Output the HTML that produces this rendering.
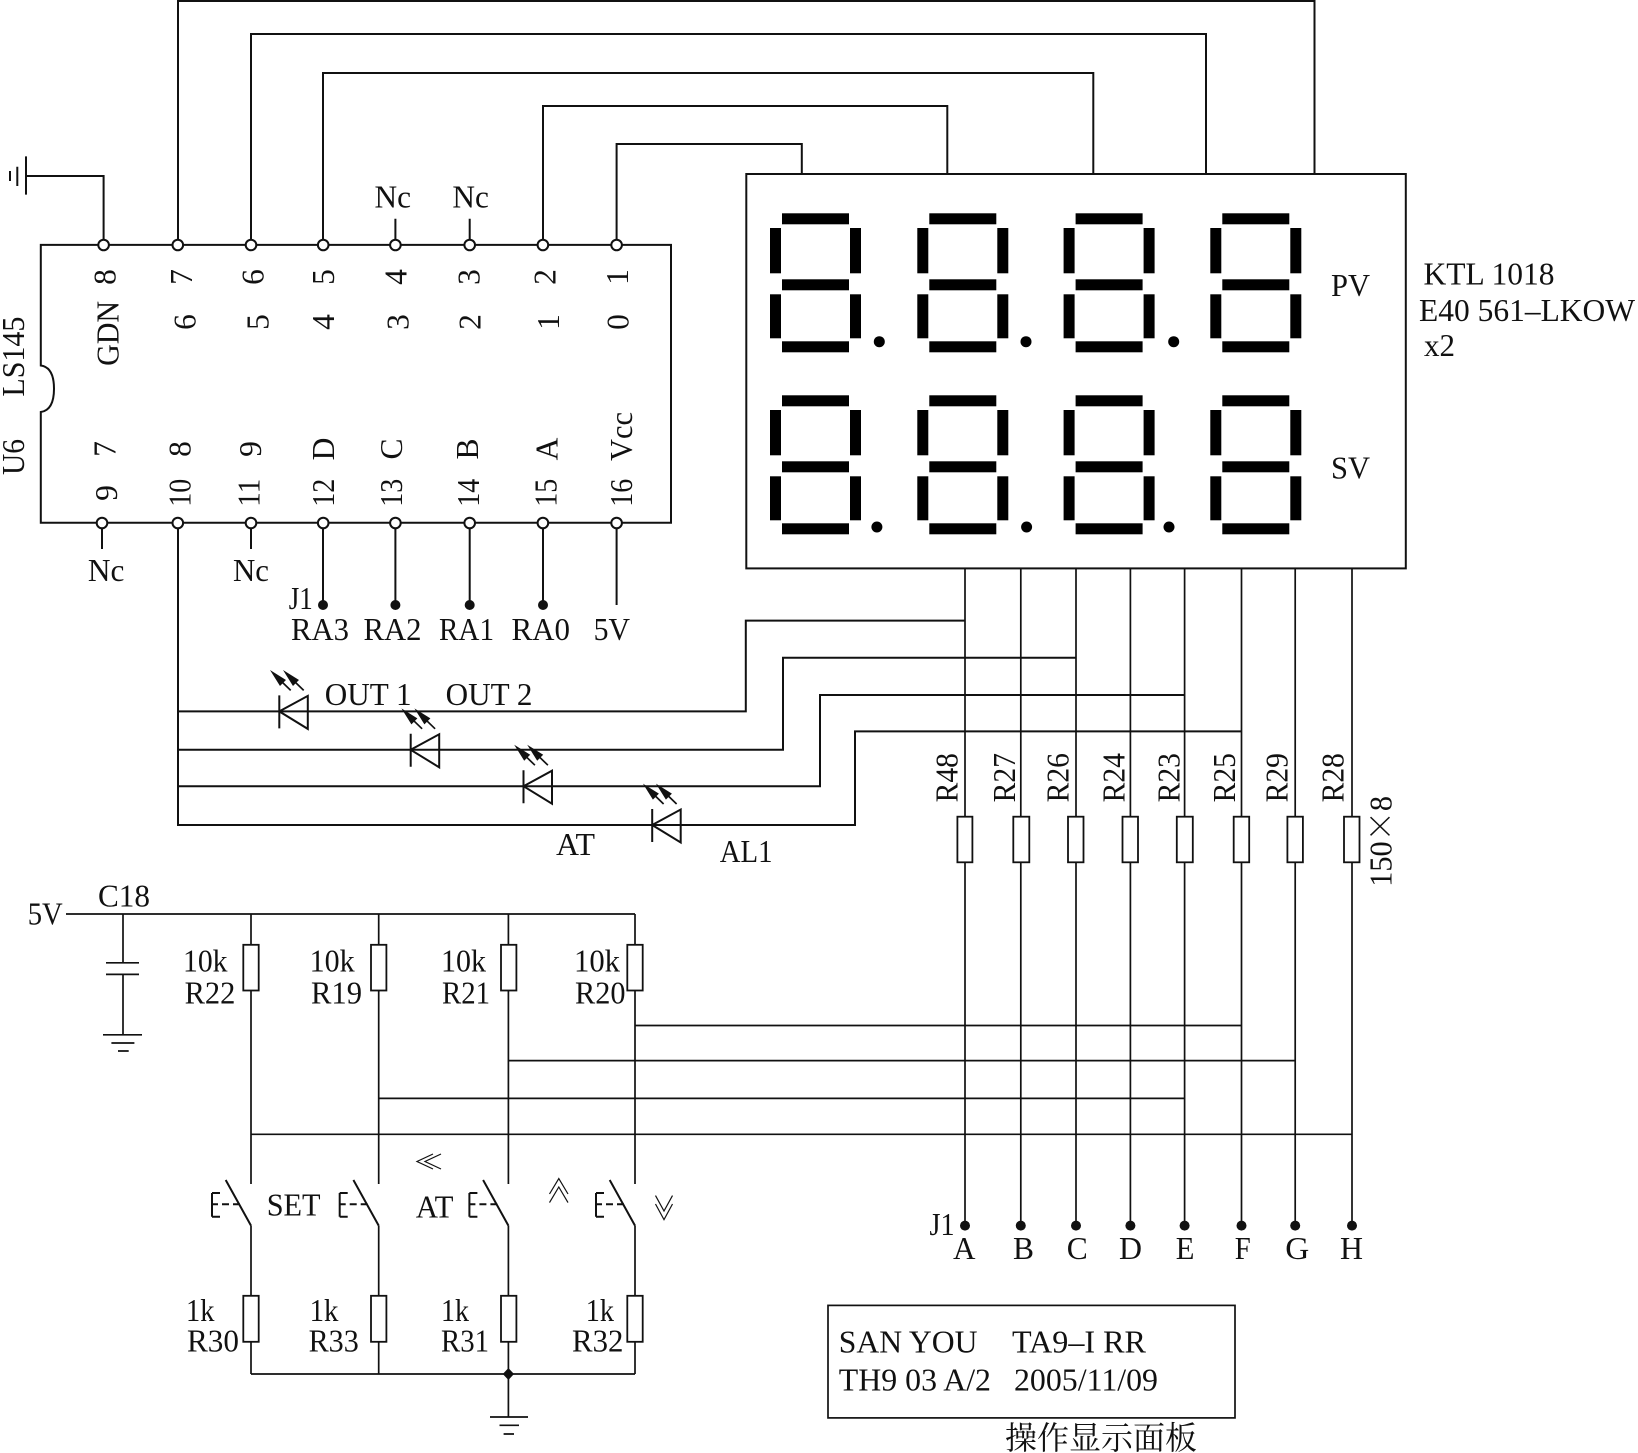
<!DOCTYPE html>
<html><head><meta charset="utf-8"><style>
html,body{margin:0;padding:0;background:#fff}
svg{display:block}
text{font-family:"Liberation Serif","Noto Serif CJK SC",serif;font-size:31.5px;fill:#111}
.w{fill:none;stroke:#111;stroke-width:2}
.t{fill:none;stroke:#111;stroke-width:1.7}
.n{fill:none;stroke:#111;stroke-width:1.2}
.p{fill:#fff;stroke:#111;stroke-width:2}
.r{fill:#fff;stroke:#111;stroke-width:1.8}
</style></head><body>
<svg xmlns="http://www.w3.org/2000/svg" width="1638" height="1453" viewBox="0 0 1638 1453">
<rect width="1638" height="1453" fill="#fff"/>
<defs>
<g id="dg" fill="#000">
<rect x="12" y="213.3" width="67" height="11"/><rect x="12" y="279.3" width="67" height="11"/><rect x="12" y="341.3" width="67" height="11"/>
<rect x="0" y="228" width="11" height="45.3"/><rect x="0" y="294.3" width="11" height="44"/>
<rect x="80" y="228" width="11" height="45.3"/><rect x="80" y="294.3" width="11" height="44"/>
</g>
<g id="led">
<path class="w" d="M0 -16V17M0 0L28.5 -15.5V17.5Z" fill="#fff"/>
<path class="t" d="M-1.5 -33.5L11.4 -21M11.5 -33.5L24.4 -21"/>
<path fill="#111" d="M-9.3 -41.4L6.7 -31.4L0.7 -25.4ZM3.7 -41.4L19.7 -31.4L13.7 -25.4Z"/>
</g>
<g id="sw">
<path class="w" d="M0 1225.6L-25.3 1180M-39 1193H-31M-39 1193V1216.7M-39 1216.7H-31M-39 1204.3H-33M-29 1204.3H-22M-18 1204.3H-11"/>
</g>
</defs>

<!-- top wires -->
<path class="w" d="M178 245V1H1314.5V174M251 245V34H1206V174M323 245V73H1093.3V174M543 245V106H947.3V174M616.6 245V144H801.8V174"/>
<path class="w" d="M26 156.4V194.6M26 176H103.6V245M17.3 166.7V186M10 171V181"/>
<path class="w" d="M395.4 245V218.8M469.7 245V218.8M102 523V549M251 523V549M323 523V605M395.4 523V605M469.7 523V605M543 523V605M616.6 523V605"/>
<path class="w" d="M40.8 244.9H671V522.8H40.8V412Q54 410 54 388.7T40.8 365.5Z" fill="none"/>
<g fill="#111"><circle cx="323" cy="605" r="5"/><circle cx="395.4" cy="605" r="5"/><circle cx="469.7" cy="605" r="5"/><circle cx="543" cy="605" r="5"/></g>

<!-- display -->
<rect class="w" x="746.3" y="174" width="659.5" height="394.4" fill="#fff"/>
<use href="#dg" x="770"/><use href="#dg" x="917.3"/><use href="#dg" x="1063.6"/><use href="#dg" x="1210.3"/>
<use href="#dg" x="770" y="182"/><use href="#dg" x="917.3" y="182"/><use href="#dg" x="1063.6" y="182"/><use href="#dg" x="1210.3" y="182"/>
<g fill="#000"><circle cx="879.3" cy="341.7" r="5.5"/><circle cx="1026" cy="341.7" r="5.5"/><circle cx="1173.7" cy="341.7" r="5.5"/><circle cx="876.9" cy="527" r="5.5"/><circle cx="1026.6" cy="527" r="5.5"/><circle cx="1169" cy="527" r="5.5"/></g>

<!-- LED wiring -->
<path class="w" d="M178 523V825H855V731.4H1241.5"/>
<path class="w" d="M178 711.4H745.8V620.6H965M178 749.8H783V657.8H1076M178 786.2H820V695H1184.6"/>
<use href="#led" x="279.3" y="711.4"/><use href="#led" x="410.7" y="749.8"/><use href="#led" x="523.5" y="786.2"/><use href="#led" x="652.2" y="825"/>

<!-- pins drawn above wires -->
<circle class="p" cx="103.6" cy="245" r="5.3"/><circle class="p" cx="177.8" cy="245" r="5.3"/><circle class="p" cx="251" cy="245" r="5.3"/><circle class="p" cx="323.2" cy="245" r="5.3"/><circle class="p" cx="395.4" cy="245" r="5.3"/><circle class="p" cx="469.7" cy="245" r="5.3"/><circle class="p" cx="542.9" cy="245" r="5.3"/><circle class="p" cx="616.6" cy="245" r="5.3"/>
<circle class="p" cx="102" cy="523" r="5.3"/><circle class="p" cx="177.8" cy="523" r="5.3"/><circle class="p" cx="251" cy="523" r="5.3"/><circle class="p" cx="323.2" cy="523" r="5.3"/><circle class="p" cx="395.4" cy="523" r="5.3"/><circle class="p" cx="469.7" cy="523" r="5.3"/><circle class="p" cx="542.9" cy="523" r="5.3"/><circle class="p" cx="616.6" cy="523" r="5.3"/>

<!-- bus verticals -->
<path class="t" d="M965 568V1225.6M1020.8 568V1225.6M1076 568V1225.6M1130.4 568V1225.6M1184.6 568V1225.6M1241.5 568V1225.6M1295.2 568V1225.6M1352 568V1225.6"/>
<g>
<rect class="r" x="957.4" y="816.7" width="15" height="45.6"/><rect class="r" x="1013.3" y="816.7" width="16" height="45.6"/><rect class="r" x="1068" y="816.7" width="15.5" height="45.6"/><rect class="r" x="1122.5" y="816.7" width="15.5" height="45.6"/><rect class="r" x="1176.8" y="816.7" width="16" height="45.6"/><rect class="r" x="1233.7" y="816.7" width="15.5" height="45.6"/><rect class="r" x="1287.4" y="816.7" width="15.5" height="45.6"/><rect class="r" x="1344" y="816.7" width="15.5" height="45.6"/>
</g>
<g fill="#111"><circle cx="965" cy="1225.6" r="5"/><circle cx="1020.8" cy="1225.6" r="5"/><circle cx="1076" cy="1225.6" r="5"/><circle cx="1130.4" cy="1225.6" r="5"/><circle cx="1184.6" cy="1225.6" r="5"/><circle cx="1241.5" cy="1225.6" r="5"/><circle cx="1295.2" cy="1225.6" r="5"/><circle cx="1352" cy="1225.6" r="5"/></g>
<path class="t" d="M635 1025.5H1241.5M508.4 1060.6H1295.2M378.7 1098.4H1184.6M251 1134.3H1352"/>

<!-- power rail -->
<path class="t" d="M66 914H635M123 914V962.8M106 962.8H139M106 974.4H139M123 974.4V1034.8M103 1034.8H142M111.4 1043H134.4M118 1051H128.7"/>
<path class="t" d="M251 914V1184M378.7 914V1184M508.4 914V1184M635 914V1184M251 1225.6V1374M378.7 1225.6V1374M508.4 1225.6V1374M635 1225.6V1374M251 1374H635M508.4 1374V1417M490 1417H528M499.5 1425.3H519M503.6 1434H514"/>
<rect class="r" x="243.3" y="944.8" width="15.4" height="45.7"/><rect class="r" x="371" y="944.8" width="15.4" height="45.7"/><rect class="r" x="501" y="944.8" width="15.4" height="45.7"/><rect class="r" x="627.3" y="944.8" width="15.4" height="45.7"/>
<rect class="r" x="243.3" y="1295.8" width="15.4" height="46"/><rect class="r" x="371" y="1295.8" width="15.4" height="46"/><rect class="r" x="501" y="1295.8" width="15.4" height="46"/><rect class="r" x="627.3" y="1295.8" width="15.4" height="46"/>
<use href="#sw" x="251"/><use href="#sw" x="378.7"/><use href="#sw" x="508.4"/><use href="#sw" x="635"/>
<path fill="#111" d="M508.4 1368L514 1374L508.4 1380L502.8 1374Z"/>
<path class="n" d="M433 1154L417 1161.5L433 1169M441 1154L425 1161.5L441 1169"/>
<path class="n" d="M549.5 1194L558.8 1178.6L568 1194M549.5 1202.6L558.8 1187L568 1202.6"/>
<path class="n" d="M655.5 1195.6L664 1211L672.5 1195.6M655.5 1204L664 1219.6L672.5 1204"/>

<!-- title box -->
<rect class="t" x="828" y="1305.4" width="407" height="112.5"/>

<!-- horizontal text -->
<g transform="translate(0,-1)">
<text x="374.5" y="208.6" textLength="36.5" lengthAdjust="spacingAndGlyphs">Nc</text>
<text x="452.4" y="208.6" textLength="36.5" lengthAdjust="spacingAndGlyphs">Nc</text>
<text x="87.9" y="582" textLength="36.5" lengthAdjust="spacingAndGlyphs">Nc</text>
<text x="233" y="582" textLength="36" lengthAdjust="spacingAndGlyphs">Nc</text>
<text x="288.7" y="610" textLength="24" lengthAdjust="spacingAndGlyphs">J1</text>
<text x="291" y="641" textLength="58" lengthAdjust="spacingAndGlyphs">RA3</text>
<text x="363.5" y="641" textLength="58" lengthAdjust="spacingAndGlyphs">RA2</text>
<text x="439" y="641" textLength="55" lengthAdjust="spacingAndGlyphs">RA1</text>
<text x="511.5" y="641" textLength="58.5" lengthAdjust="spacingAndGlyphs">RA0</text>
<text x="593.6" y="641" textLength="36.4" lengthAdjust="spacingAndGlyphs">5V</text>
<text x="324.8" y="705.8" textLength="86.8" lengthAdjust="spacingAndGlyphs">OUT 1</text>
<text x="445.6" y="705.8" textLength="86.8" lengthAdjust="spacingAndGlyphs">OUT 2</text>
<text x="556" y="855.9" textLength="39" lengthAdjust="spacingAndGlyphs">AT</text>
<text x="719.7" y="862.8" textLength="52.8" lengthAdjust="spacingAndGlyphs">AL1</text>
<text x="27.7" y="925.5" textLength="35" lengthAdjust="spacingAndGlyphs">5V</text>
<text x="98" y="907.5" textLength="52" lengthAdjust="spacingAndGlyphs">C18</text>
<text x="183" y="972.5" textLength="44.5" lengthAdjust="spacingAndGlyphs">10k</text>
<text x="184.6" y="1004.3" textLength="50.8" lengthAdjust="spacingAndGlyphs">R22</text>
<text x="309.6" y="972.5" textLength="45" lengthAdjust="spacingAndGlyphs">10k</text>
<text x="311" y="1004.3" textLength="51" lengthAdjust="spacingAndGlyphs">R19</text>
<text x="441" y="972.5" textLength="45" lengthAdjust="spacingAndGlyphs">10k</text>
<text x="442" y="1004.3" textLength="48" lengthAdjust="spacingAndGlyphs">R21</text>
<text x="574" y="972.5" textLength="46" lengthAdjust="spacingAndGlyphs">10k</text>
<text x="575" y="1004.3" textLength="50.5" lengthAdjust="spacingAndGlyphs">R20</text>
<text x="266.7" y="1216.4" textLength="53.9" lengthAdjust="spacingAndGlyphs">SET</text>
<text x="415.8" y="1218.7" textLength="37.7" lengthAdjust="spacingAndGlyphs">AT</text>
<text x="186" y="1322" textLength="28.4" lengthAdjust="spacingAndGlyphs">1k</text>
<text x="187" y="1352.4" textLength="52" lengthAdjust="spacingAndGlyphs">R30</text>
<text x="309.6" y="1322" textLength="28.8" lengthAdjust="spacingAndGlyphs">1k</text>
<text x="308.6" y="1352.4" textLength="50.2" lengthAdjust="spacingAndGlyphs">R33</text>
<text x="441" y="1322" textLength="28" lengthAdjust="spacingAndGlyphs">1k</text>
<text x="441" y="1352.4" textLength="48" lengthAdjust="spacingAndGlyphs">R31</text>
<text x="585.8" y="1322" textLength="28.2" lengthAdjust="spacingAndGlyphs">1k</text>
<text x="572" y="1352.4" textLength="51.4" lengthAdjust="spacingAndGlyphs">R32</text>
<text x="1331" y="297" textLength="39" lengthAdjust="spacingAndGlyphs">PV</text>
<text x="1331" y="479.5" textLength="39" lengthAdjust="spacingAndGlyphs">SV</text>
<text x="1423.5" y="285.4" textLength="131" lengthAdjust="spacingAndGlyphs">KTL 1018</text>
<text x="1419" y="322" textLength="216" lengthAdjust="spacingAndGlyphs">E40 561–LKOW</text>
<text x="1424" y="357" textLength="31" lengthAdjust="spacingAndGlyphs">x2</text>
<text x="929.5" y="1236.2" textLength="25" lengthAdjust="spacingAndGlyphs">J1</text>
<text x="953" y="1260.2" textLength="22.5" lengthAdjust="spacingAndGlyphs">A</text>
<text x="1013" y="1260.2" textLength="21" lengthAdjust="spacingAndGlyphs">B</text>
<text x="1066.7" y="1260.2" textLength="21" lengthAdjust="spacingAndGlyphs">C</text>
<text x="1119" y="1260.2" textLength="23" lengthAdjust="spacingAndGlyphs">D</text>
<text x="1175.8" y="1260.2" textLength="18.7" lengthAdjust="spacingAndGlyphs">E</text>
<text x="1234.7" y="1260.2" textLength="16" lengthAdjust="spacingAndGlyphs">F</text>
<text x="1285.3" y="1260.2" textLength="24" lengthAdjust="spacingAndGlyphs">G</text>
<text x="1340" y="1260.2" textLength="23" lengthAdjust="spacingAndGlyphs">H</text>
<text x="838.8" y="1353.3" textLength="138.7" lengthAdjust="spacingAndGlyphs">SAN YOU</text>
<text x="1012" y="1353.3" textLength="134" lengthAdjust="spacingAndGlyphs">TA9–I RR</text>
<text x="838.8" y="1391.6" textLength="152.2" lengthAdjust="spacingAndGlyphs">TH9 03 A/2</text>
<text x="1014" y="1391.6" textLength="144" lengthAdjust="spacingAndGlyphs">2005/11/09</text>
<text x="1005" y="1450" style="font-size:32px" textLength="192">操作显示面板</text>
</g>

<!-- rotated text -->
<g text-anchor="middle" transform="translate(-0.7,0)">
<text transform="translate(116,277) rotate(-90)">8</text><text transform="translate(192.5,277) rotate(-90)">7</text><text transform="translate(264,277) rotate(-90)">6</text><text transform="translate(334.7,277) rotate(-90)">5</text><text transform="translate(407,277) rotate(-90)">4</text><text transform="translate(480,277) rotate(-90)">3</text><text transform="translate(556,277) rotate(-90)">2</text><text transform="translate(628.7,277) rotate(-90)">1</text>
<text transform="translate(196,322) rotate(-90)">6</text><text transform="translate(269,322) rotate(-90)">5</text><text transform="translate(334.7,322) rotate(-90)">4</text><text transform="translate(409,322) rotate(-90)">3</text><text transform="translate(481,322) rotate(-90)">2</text><text transform="translate(559.6,322) rotate(-90)">1</text><text transform="translate(629,322) rotate(-90)">0</text>
<text transform="translate(119.2,333.4) rotate(-90)" textLength="65" lengthAdjust="spacingAndGlyphs">GDN</text>
<text transform="translate(116,449) rotate(-90)">7</text><text transform="translate(191,449) rotate(-90)">8</text><text transform="translate(261.5,449) rotate(-90)">9</text><text transform="translate(334.7,449) rotate(-90)">D</text><text transform="translate(402.7,449) rotate(-90)">C</text><text transform="translate(478.6,449) rotate(-90)">B</text><text transform="translate(558,449) rotate(-90)">A</text><text transform="translate(632.8,436.5) rotate(-90)" textLength="49" lengthAdjust="spacingAndGlyphs">Vcc</text>
<text transform="translate(117.7,493) rotate(-90)">9</text><text transform="translate(191,492.7) rotate(-90)" textLength="28" lengthAdjust="spacingAndGlyphs">10</text><text transform="translate(260,492.7) rotate(-90)" textLength="28" lengthAdjust="spacingAndGlyphs">11</text><text transform="translate(334.7,492.7) rotate(-90)" textLength="28" lengthAdjust="spacingAndGlyphs">12</text><text transform="translate(402.7,492.7) rotate(-90)" textLength="28" lengthAdjust="spacingAndGlyphs">13</text><text transform="translate(479.6,492.7) rotate(-90)" textLength="28" lengthAdjust="spacingAndGlyphs">14</text><text transform="translate(557,492.7) rotate(-90)" textLength="28" lengthAdjust="spacingAndGlyphs">15</text><text transform="translate(632.8,492.7) rotate(-90)" textLength="28" lengthAdjust="spacingAndGlyphs">16</text>
</g>
<g transform="translate(-0.7,0)">
<text transform="translate(24.6,396.6) rotate(-90)" textLength="80" lengthAdjust="spacingAndGlyphs">LS145</text>
<text transform="translate(24.6,475) rotate(-90)" textLength="36" lengthAdjust="spacingAndGlyphs">U6</text>
<text transform="translate(958.2,802.4) rotate(-90)" textLength="49.3" lengthAdjust="spacingAndGlyphs">R48</text>
<text transform="translate(1015.6,802.4) rotate(-90)" textLength="49.3" lengthAdjust="spacingAndGlyphs">R27</text>
<text transform="translate(1069.4,802.4) rotate(-90)" textLength="49.3" lengthAdjust="spacingAndGlyphs">R26</text>
<text transform="translate(1125,802.4) rotate(-90)" textLength="49.3" lengthAdjust="spacingAndGlyphs">R24</text>
<text transform="translate(1180,802.4) rotate(-90)" textLength="49.3" lengthAdjust="spacingAndGlyphs">R23</text>
<text transform="translate(1235.8,802.4) rotate(-90)" textLength="49.3" lengthAdjust="spacingAndGlyphs">R25</text>
<text transform="translate(1288.4,802.4) rotate(-90)" textLength="49.3" lengthAdjust="spacingAndGlyphs">R29</text>
<text transform="translate(1344.2,802.4) rotate(-90)" textLength="49.3" lengthAdjust="spacingAndGlyphs">R28</text>
<text transform="translate(1392.2,886.8) rotate(-90)" textLength="90.8" lengthAdjust="spacingAndGlyphs">150<tspan style="font-family:'Noto Sans CJK SC',sans-serif;font-weight:300">×</tspan>8</text>
</g>
</svg>
</body></html>
